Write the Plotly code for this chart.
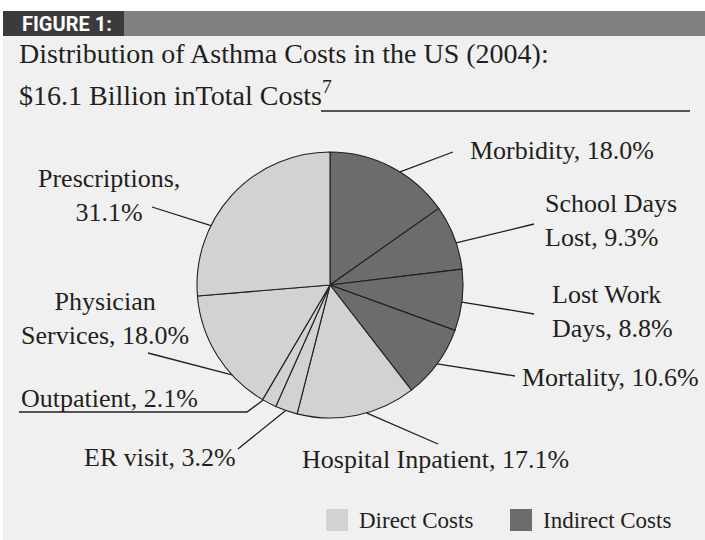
import math
import plotly.graph_objects as go

# ---------------- data ----------------
labels = ["Morbidity", "School Days Lost", "Lost Work Days", "Mortality",
          "Hospital Inpatient", "ER visit", "Outpatient",
          "Physician Services", "Prescriptions"]
values = [18.0, 9.3, 8.8, 10.6, 17.1, 3.2, 2.1, 18.0, 31.1]
cost_type = ["Indirect", "Indirect", "Indirect", "Indirect",
             "Direct", "Direct", "Direct", "Direct", "Direct"]
label_disp = ["Morbidity", "School Days<br>Lost", "Lost Work<br>Days", "Mortality",
              "Hospital Inpatient", "ER visit", "Outpatient",
              "Physician<br>Services", "Prescriptions"]
label_sep = [", ", ", ", ", ", ", ", ", ", ", ", ", ", ", ", ",<br>"]
legend_labels = ["Direct Costs", "Indirect Costs"]
title_text = "Distribution of Asthma Costs in the US (2004):"
subtitle_text = "$16.1 Billion inTotal Costs<sup>7</sup>"
header_text = "FIGURE 1:"

# ---------------- style ----------------
W, H = 705, 540
CX, CY, R = 330, 285, 133
BG = "#f0f0f0"
TXT = "#231f20"
COLORS = {"Direct": "#d1d2d4", "Indirect": "#6b6c6e"}
SERIF = "Liberation Serif, Times New Roman, serif"
LFS = 26

# label layout: tip fraction along slice arc, line end point (px), text anchor (px), x-anchor
tip_frac = [0.58, 0.59, 0.53, 0.51, 0.42, 0.53, 0.95, 0.31, 0.33]
line_end = [(453, 152), (534, 224), (534, 314), (515, 376), (438, 444),
            (238, 449), (247, 412), (148, 353), (152, 207)]
text_pos = [(468, 150), (543, 221), (550, 312), (520, 377), (300, 459),
            (82, 457), (19, 398), (105, 318), (109, 196)]
text_anchor = ["left", "left", "left", "left", "left", "left", "left", "center", "center"]


def P(x, y):
    return x / W, 1 - y / H


fig = go.Figure()
fig.add_trace(go.Pie(
    labels=labels, values=values, sort=False, direction="clockwise", rotation=0,
    marker=dict(colors=[COLORS[c] for c in cost_type], line=dict(color=TXT, width=1.1)),
    textinfo="none", hoverinfo="label+value", showlegend=False,
    domain=dict(x=[(CX - R) / W, (CX + R) / W], y=[1 - (CY + R) / H, 1 - (CY - R) / H]),
))

shapes = []
annotations = []

# header
shapes.append(dict(type="rect", xref="paper", yref="paper", x0=0, x1=1, y0=P(0, 0)[1], y1=P(0, 11)[1],
                   fillcolor="#ffffff", line=dict(width=0), layer="below"))
shapes.append(dict(type="rect", xref="paper", yref="paper", x0=P(3, 0)[0], x1=P(124, 0)[0],
                   y0=P(0, 36)[1], y1=P(0, 11)[1], fillcolor="#3b3b3d", line=dict(width=0), layer="below"))
shapes.append(dict(type="rect", xref="paper", yref="paper", x0=P(124, 0)[0], x1=1,
                   y0=P(0, 36)[1], y1=P(0, 11)[1], fillcolor="#808183", line=dict(width=0), layer="below"))
shapes.append(dict(type="rect", xref="paper", yref="paper", x0=0, x1=P(3, 0)[0],
                   y0=0, y1=1, fillcolor="#ffffff", line=dict(width=0), layer="below"))
annotations.append(dict(text="<b>" + header_text + "</b>", xref="paper", yref="paper",
                        x=P(20, 0)[0], y=P(0, 24)[1], xanchor="left", yanchor="middle", showarrow=False,
                        font=dict(family="Liberation Sans Narrow, Arial Narrow, Roboto, sans-serif",
                                  size=20, color="#ffffff")))

# titles
annotations.append(dict(text=title_text, xref="paper", yref="paper", x=P(17, 0)[0], y=P(0, 54)[1],
                        xanchor="left", yanchor="middle", showarrow=False,
                        font=dict(family=SERIF, size=28, color=TXT)))
annotations.append(dict(text=subtitle_text, xref="paper", yref="paper", x=P(17, 0)[0], y=P(0, 94)[1],
                        xanchor="left", yanchor="middle", showarrow=False,
                        font=dict(family=SERIF, size=28, color=TXT)))
shapes.append(dict(type="line", xref="paper", yref="paper", x0=P(321, 0)[0], x1=P(690, 0)[0],
                   y0=P(0, 111)[1], y1=P(0, 111)[1], line=dict(color=TXT, width=1.5)))

# slice labels + leader lines
total = sum(values)
cum = 0.0
for i, v in enumerate(values):
    a0 = cum / total * 360
    a1 = (cum + v) / total * 360
    cum += v
    a = math.radians(a0 + tip_frac[i] * (a1 - a0))
    tx, ty = CX + R * math.sin(a), CY - R * math.cos(a)
    ex, ey = line_end[i]
    x0, y0 = P(tx, ty)
    x1, y1 = P(ex, ey)
    if labels[i] == "Outpatient":
        ux, uy = P(text_pos[i][0], ey)
        shapes.append(dict(type="path", xref="paper", yref="paper",
                           path=f"M {x0} {y0} L {x1} {y1} L {ux} {uy}",
                           line=dict(color=TXT, width=1.3)))
    else:
        shapes.append(dict(type="line", xref="paper", yref="paper", x0=x0, y0=y0, x1=x1, y1=y1,
                           line=dict(color=TXT, width=1.3)))
    px_, py_ = P(*text_pos[i])
    annotations.append(dict(text=f"{label_disp[i]}{label_sep[i]}{v:.1f}%", xref="paper", yref="paper",
                            x=px_, y=py_, xanchor=text_anchor[i], yanchor="middle",
                            align=text_anchor[i], showarrow=False,
                            font=dict(family=SERIF, size=LFS, color=TXT)))

# legend
leg_sq = [(326, 509), (510, 509)]
leg_colors = [COLORS["Direct"], COLORS["Indirect"]]
for (lx, ly), col, lab in zip(leg_sq, leg_colors, legend_labels):
    x0, y0 = P(lx, ly + 22)
    x1, y1 = P(lx + 22, ly)
    shapes.append(dict(type="rect", xref="paper", yref="paper", x0=x0, x1=x1, y0=y0, y1=y1,
                       fillcolor=col, line=dict(width=0)))
    tx, ty = P(lx + 31, ly + 11)
    annotations.append(dict(text=lab, xref="paper", yref="paper", x=tx, y=ty,
                            xanchor="left", yanchor="middle", showarrow=False,
                            font=dict(family=SERIF, size=23, color=TXT)))

fig.update_layout(
    width=W, height=H, margin=dict(l=0, r=0, t=0, b=0),
    paper_bgcolor=BG, plot_bgcolor=BG,
    shapes=shapes, annotations=annotations,
)
fig.write_html("out.html", config={"displayModeBar": False},
               post_script="document.body.style.margin='0';document.body.style.overflow='hidden';")
